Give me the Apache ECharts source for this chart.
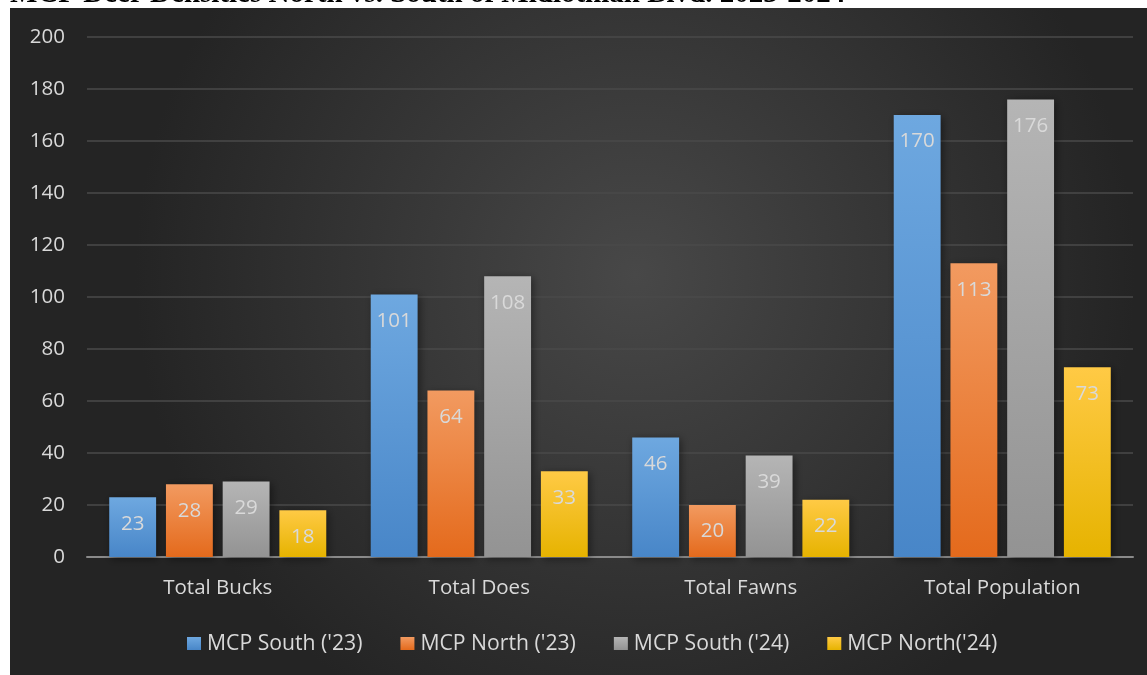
<!DOCTYPE html>
<html>
<head>
<meta charset="utf-8">
<script src="https://cdn.jsdelivr.net/npm/echarts@6/dist/echarts.min.js"></script>
<style>
  html, body { margin: 0; padding: 0; background: #ffffff; }
  #chart { width: 1147px; height: 675px; }
</style>
</head>
<body>
<div id="chart"></div>
<script>
// Deer counts by area and survey year
const categories = ['Total Bucks', 'Total Does', 'Total Fawns', 'Total Population'];
const seriesNames = ["MCP South ('23)", "MCP North ('23)", "MCP South ('24)", "MCP North('24)"];
const south23 = [23, 101, 46, 170];
const north23 = [28, 64, 20, 113];
const south24 = [29, 108, 39, 176];
const north24 = [18, 33, 22, 73];
const yTicks = [0, 20, 40, 60, 80, 100, 120, 140, 160, 180, 200];

const titleText = 'MCP Deer Densities North vs. South of Midlothian Blvd. 2023-2024';

const font = '"Open Sans", Lato, sans-serif';
const textColor = '#d9d9d9';

function grad(top, bottom) {
  return new echarts.graphic.LinearGradient(0, 0, 0, 1, [
    { offset: 0, color: top },
    { offset: 1, color: bottom }
  ]);
}

const palette = [
  grad('#6ea8e0', '#4886c8'),
  grad('#f29a60', '#e46a1c'),
  grad('#b5b5b5', '#939393'),
  grad('#ffca45', '#e6b300')
];
const dataSets = [south23, north23, south24, north24];

const chart = echarts.init(document.getElementById('chart'), null, { renderer: 'canvas' });

const series = dataSets.map((d, i) => ({
  name: seriesNames[i],
  type: 'bar',
  data: d,
  barGap: '21%',
  barCategoryGap: '17%',
  itemStyle: {
    color: palette[i],
    shadowColor: 'rgba(0,0,0,0.45)',
    shadowBlur: 8,
    shadowOffsetX: 2,
    shadowOffsetY: 2
  },
  label: {
    show: true,
    position: 'insideTop',
    distance: 16,
    color: textColor,
    fontFamily: font,
    fontSize: 20.5
  },
  z: 3
}));

chart.setOption({
  backgroundColor: '#ffffff',
  animation: false,
  color: palette,
  graphic: [
    {
      type: 'rect',
      shape: { x: 10, y: 8, width: 1137, height: 667 },
      style: {
        fill: new echarts.graphic.RadialGradient(0.55, 0.4, 0.75, [
          { offset: 0, color: '#484848' },
          { offset: 1, color: '#242424' }
        ])
      },
      z: -10,
      silent: true
    },
    {
      type: 'text',
      left: 10,
      top: -20,
      style: {
        text: titleText,
        fill: '#000000',
        font: 'bold 29px "Liberation Serif", "DejaVu Serif", serif'
      },
      z: 100
    }
  ],
  legend: {
    data: seriesNames,
    top: 628,
    left: 182,
    itemWidth: 14,
    itemHeight: 13,
    itemGap: 38,
    icon: 'rect',
    itemStyle: { shadowBlur: 0, shadowOffsetX: 0, shadowOffsetY: 0 },
    textStyle: { color: textColor, fontFamily: font, fontSize: 21.2, padding: [0, 0, 0, 1] }
  },
  grid: { left: 87, right: 14, top: 37, bottom: 118, containLabel: false },
  xAxis: {
    type: 'category',
    data: categories,
    axisLine: { show: true, lineStyle: { color: '#8a8a8a', width: 2 } },
    axisTick: { show: false },
    axisLabel: { color: textColor, fontFamily: font, fontSize: 20.5, margin: 21 }
  },
  yAxis: {
    type: 'value',
    min: 0,
    max: 200,
    interval: 20,
    axisLine: { show: false },
    axisTick: { show: false },
    axisLabel: {
      color: textColor, fontFamily: font, fontSize: 20.5, margin: 22,
      formatter: v => (yTicks.includes(v) ? String(v) : '')
    },
    splitLine: { lineStyle: { color: '#4a4a4a', width: 1.5 } }
  },
  series: series
});
</script>
</body>
</html>
